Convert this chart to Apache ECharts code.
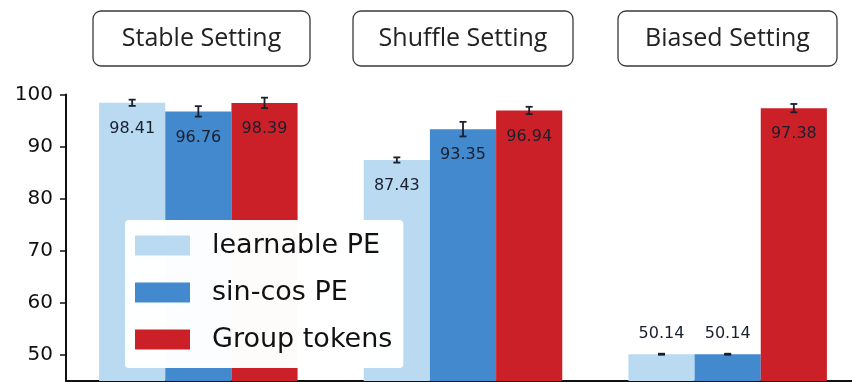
<!DOCTYPE html>
<html>
<head>
<meta charset="utf-8">
<script src="https://cdn.jsdelivr.net/npm/echarts@6/dist/echarts.min.js"></script>
<style>html,body{margin:0;padding:0;background:#fff;}#c{width:852px;height:382px;}</style>
</head>
<body>
<div id="c"></div>
<script>
var categories = ['Stable Setting', 'Shuffle Setting', 'Biased Setting'];
var seriesNames = ['learnable PE', 'sin-cos PE', 'Group tokens'];
var learnable = [98.41, 87.43, 50.14];
var sincos = [96.76, 93.35, 50.14];
var group = [98.39, 96.94, 97.38];
var learnableErr = [0.6, 0.5, 0.1];
var sincosErr = [1.0, 1.4, 0.1];
var groupErr = [1.0, 0.7, 0.8];
var yTicks = [50, 60, 70, 80, 90, 100];

var colors = ['#b9daf1', '#4289cd', '#cc2028'];
var values = [learnable, sincos, group];
var errs = [learnableErr, sincosErr, groupErr];

var chart = echarts.init(document.getElementById('c'), null, {renderer: 'canvas'});

var labelStyle = {
  show: true,
  fontFamily: 'DejaVu Sans',
  fontSize: 16,
  color: '#1a1f2e',
  formatter: function (p) { return p.value.toFixed(2); }
};

var series = [];
values.forEach(function (vals, i) {
  series.push({
    name: seriesNames[i],
    type: 'bar',
    barWidth: '25%',
    barGap: '0%',
    itemStyle: {color: colors[i]},
    data: vals.map(function (v) {
      var low = v < 60;
      return {
        value: v,
        label: low ? Object.assign({}, labelStyle, {position: 'top', distance: 12})
                   : Object.assign({}, labelStyle, {position: 'insideTop', distance: 18})
      };
    }),
    z: 2
  });
});

values.forEach(function (vals, i) {
  series.push({
    type: 'custom',
    name: 'err' + i,
    z: 5,
    data: vals.map(function (v, k) { return [k, v - errs[i][k], v + errs[i][k]]; }),
    renderItem: function (params, api) {
      var k = api.value(0);
      var lo = api.coord([k, api.value(1)]);
      var hi = api.coord([k, api.value(2)]);
      var bw = api.size([1, 0])[0] * 0.25;
      var x = lo[0] + (i - 1) * bw;
      var cap = 3.5;
      var st = {stroke: '#1b1f2b', lineWidth: 1.8};
      return {
        type: 'group',
        children: [
          {type: 'line', shape: {x1: x, y1: lo[1], x2: x, y2: hi[1]}, style: st},
          {type: 'line', shape: {x1: x - cap, y1: lo[1], x2: x + cap, y2: lo[1]}, style: st},
          {type: 'line', shape: {x1: x - cap, y1: hi[1], x2: x + cap, y2: hi[1]}, style: st}
        ]
      };
    }
  });
});

var boxes = [
  {x: 93, w: 217},
  {x: 353, w: 220},
  {x: 618, w: 219}
];
var graphics = [];
categories.forEach(function (c, k) {
  graphics.push({
    type: 'rect',
    shape: {x: boxes[k].x, y: 11, width: boxes[k].w, height: 55, r: 8},
    style: {fill: '#fff', stroke: '#3a3a3a', lineWidth: 1.3}
  });
  graphics.push({
    type: 'text',
    x: boxes[k].x + boxes[k].w / 2,
    y: 39,
    style: {
      text: c, fill: '#222', font: '25px "Open Sans"',
      textAlign: 'center', textVerticalAlign: 'middle'
    }
  });
});

chart.setOption({
  animation: false,
  backgroundColor: '#fff',
  grid: {left: 66, top: 94.5, width: 794, bottom: 1, containLabel: false, outerBoundsMode: 'none'},
  xAxis: {
    type: 'category',
    data: categories,
    axisLine: {show: true, lineStyle: {color: '#111', width: 2}},
    axisTick: {show: false},
    axisLabel: {show: false},
    splitLine: {show: false}
  },
  yAxis: {
    type: 'value',
    min: 45,
    max: 100,
    axisLine: {show: true, lineStyle: {color: '#111', width: 2}},
    axisTick: {show: true, length: 6, lineStyle: {color: '#111', width: 1.5}, customValues: yTicks},
    axisLabel: {
      fontFamily: 'DejaVu Sans', fontSize: 20, color: '#111', margin: 13,
      customValues: yTicks
    },
    splitLine: {show: false}
  },
  legend: {
    data: seriesNames,
    orient: 'vertical',
    left: 125,
    top: 220,
    icon: 'rect',
    itemWidth: 55,
    itemHeight: 20,
    itemGap: 20,
    padding: [12, 11, 15, 10],
    backgroundColor: 'rgba(255,255,255,0.985)',
    borderRadius: 4,
    textStyle: {fontFamily: 'DejaVu Sans', fontSize: 27, color: '#111', padding: [0, 0, 0, 17]},
    z: 10
  },
  graphic: graphics,
  series: series
});
</script>
</body>
</html>
